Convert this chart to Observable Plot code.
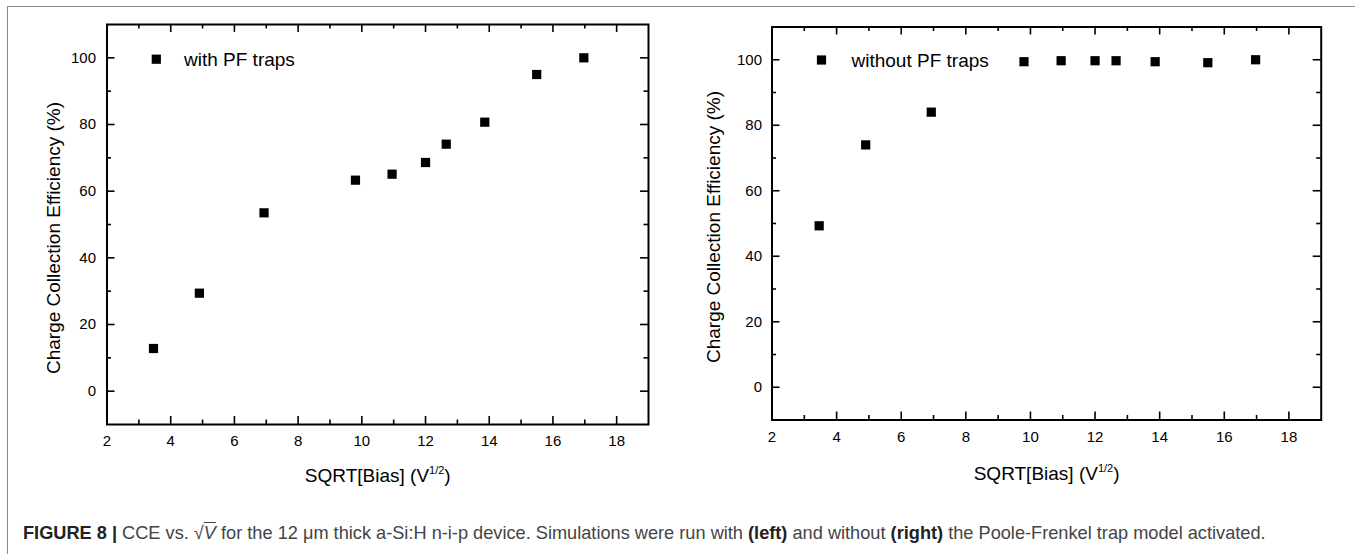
<!DOCTYPE html>
<html><head><meta charset="utf-8">
<script src="https://cdn.jsdelivr.net/npm/d3@7"></script>
<script src="https://cdn.jsdelivr.net/npm/@observablehq/plot@0.6"></script>
<style>
html,body{margin:0;padding:0;background:#fff;}
body{width:1355px;height:554px;overflow:hidden;position:relative;font-family:"Liberation Sans",Arial,sans-serif;}
#box{position:absolute;left:6.5px;top:5.5px;width:1400px;height:600px;border-top:1.5px solid #8a8a8a;border-left:1.5px solid #8a8a8a;}
#left{position:absolute;left:0;top:0;}
#right{position:absolute;left:680px;top:0;}
#caption{position:absolute;left:23px;top:522px;font-size:18.2px;line-height:22px;color:#444;white-space:nowrap;}
#caption b{color:#222;}
.sv{text-decoration:overline;font-style:italic;}
</style></head><body>
<div id="box"></div>
<div id="left"></div>
<div id="right"></div>
<div id="caption"><b>FIGURE 8 |</b> CCE vs. √<span class="sv">V</span> for the 12 μm thick a-Si:H n-i-p device. Simulations were run with <b>(left)</b> and without <b>(right)</b> the Poole-Frenkel trap model activated.</div>
<script>
// Data
const sqrtBias = [3.46, 4.90, 6.93, 9.80, 10.95, 12.00, 12.65, 13.86, 15.49, 16.97];
const cceWithPF = [12.8, 29.4, 53.5, 63.3, 65.1, 68.6, 74.1, 80.7, 95.0, 100.0];
const cceWithoutPF = [49.3, 74.0, 84.0, 99.4, 99.7, 99.7, 99.7, 99.4, 99.1, 100.0];
const seriesNames = ["with PF traps", "without PF traps"];
const xTicks = [2, 4, 6, 8, 10, 12, 14, 16, 18];
const xMinorTicks = [3, 5, 7, 9, 11, 13, 15, 17];
const yTicks = [0, 20, 40, 60, 80, 100];
const yMinorTicks = [10, 30, 50, 70, 90];
const xTitle = "SQRT[Bias] (V^1/2)";
const yTitle = "Charge Collection Efficiency (%)";

const FONT = "'Liberation Sans', Arial, Helvetica, sans-serif";

function panel(values, name, o) {
  const innerW = o.width - o.mL - o.mR;
  const innerH = o.height - o.mT - o.mB;
  const pts = sqrtBias.map((x, i) => ({bias: x, cce: values[i]}));
  const MAJ = 8, MIN = 4.5, TW = 1.6;
  const svg = Plot.plot({
    width: o.width, height: o.height,
    marginLeft: o.mL, marginRight: o.mR, marginTop: o.mT, marginBottom: o.mB,
    x: {domain: [2, 19]},
    y: {domain: [-10, 110]},
    style: {fontFamily: FONT, fontSize: "15px", color: "#000", background: "transparent", overflow: "visible"},
    marks: [
      Plot.axisX(xTicks, {tickSize: 0, tickPadding: 11, label: null}),
      Plot.axisY(yTicks, {tickSize: 0, tickPadding: o.yPad, label: null}),
      // inward ticks, bottom and top
      Plot.tickX(xTicks, {x: d => d, insetTop: innerH - MAJ, stroke: "#000", strokeWidth: TW}),
      Plot.tickX(xMinorTicks, {x: d => d, insetTop: innerH - MIN, stroke: "#000", strokeWidth: TW}),
      Plot.tickX(xTicks, {x: d => d, insetBottom: innerH - MAJ, stroke: "#000", strokeWidth: TW}),
      Plot.tickX(xMinorTicks, {x: d => d, insetBottom: innerH - MIN, stroke: "#000", strokeWidth: TW}),
      // inward ticks, left and right
      Plot.tickY(yTicks, {y: d => d, insetRight: innerW - MAJ, stroke: "#000", strokeWidth: TW}),
      Plot.tickY(yMinorTicks, {y: d => d, insetRight: innerW - MIN, stroke: "#000", strokeWidth: TW}),
      Plot.tickY(yTicks, {y: d => d, insetLeft: innerW - MAJ, stroke: "#000", strokeWidth: TW}),
      Plot.tickY(yMinorTicks, {y: d => d, insetLeft: innerW - MIN, stroke: "#000", strokeWidth: TW}),
      Plot.frame({stroke: "#000", strokeWidth: 2}),
      Plot.dot(pts, {x: "bias", y: "cce", symbol: "square", r: 5.2, fill: "#000", stroke: "none"}),
      // legend
      Plot.dot([name], {frameAnchor: "top-left", dx: o.legDotDx, dy: o.legDotDy, symbol: "square", r: 5.2, fill: "#000", stroke: "none"}),
      Plot.text([name], {text: d => d, frameAnchor: "top-left", dx: o.legTxtDx, dy: o.legTxtDy, textAnchor: "start", lineAnchor: "middle", fontSize: 19, fill: "#000"}),
      // axis titles
      Plot.text([yTitle], {text: d => d, frameAnchor: "left", rotate: -90, dx: o.yTitleDx, dy: o.yTitleDy, textAnchor: "middle", lineAnchor: "middle", fontSize: 19, fill: "#000"}),
      Plot.text([xTitle], {text: d => d, frameAnchor: "bottom", dy: o.xTitleDy, textAnchor: "middle", lineAnchor: "bottom", fontSize: 19, fill: "#000"})
    ]
  });
  // superscript in the x title
  d3.select(svg).selectAll("text").filter(function () { return this.textContent === xTitle; }).each(function () {
    const t = d3.select(this);
    t.text(null);
    t.append("tspan").text("SQRT[Bias] (V");
    t.append("tspan").attr("font-size", 11).attr("dy", -7.5).text("1/2");
    t.append("tspan").attr("dy", 7.5).text(")");
  });
  return svg;
}

document.getElementById("left").append(panel(cceWithPF, seriesNames[0], {
  width: 660, height: 500, mL: 106.5, mR: 12, mT: 24, mB: 76, yPad: 11,
  legDotDx: 49.3, legDotDy: 34.7, legTxtDx: 77, legTxtDy: 35,
  yTitleDx: -53.5, yTitleDy: 13.5, xTitleDy: 57
}));
document.getElementById("right").append(panel(cceWithoutPF, seriesNames[1], {
  width: 660, height: 500, mL: 91.5, mR: 19.3, mT: 26.5, mB: 80.5, yPad: 10,
  legDotDx: 49.5, legDotDy: 33, legTxtDx: 79.5, legTxtDy: 33.5,
  yTitleDx: -58.5, yTitleDy: 3.5, xTitleDy: 59.5
}));
</script>
</body></html>
